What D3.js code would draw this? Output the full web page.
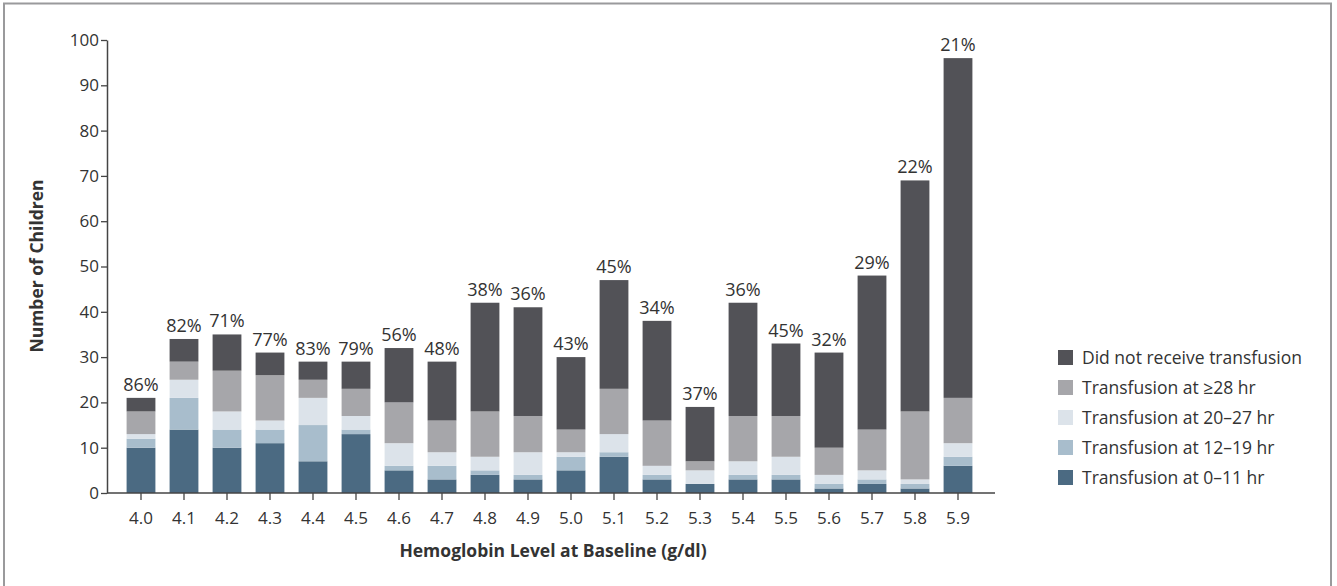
<!DOCTYPE html>
<html>
<head>
<meta charset="utf-8">
<script src="https://cdn.jsdelivr.net/npm/d3@7"></script>
<style>
  body { margin: 0; background: #fff; }
  text { font-family: "Open Sans", sans-serif; fill: #333; }
</style>
</head>
<body>
<div id="chart"></div>
<script>
var levels = ["4.0","4.1","4.2","4.3","4.4","4.5","4.6","4.7","4.8","4.9","5.0","5.1","5.2","5.3","5.4","5.5","5.6","5.7","5.8","5.9"];
// counts per group, bottom to top
var hr0to11  = [10,14,10,11, 7,13, 5, 3, 4, 3, 5, 8, 3, 2, 3, 3, 1, 2, 1, 6];
var hr12to19 = [ 2, 7, 4, 3, 8, 1, 1, 3, 1, 1, 3, 1, 1, 0, 1, 1, 1, 1, 1, 2];
var hr20to27 = [ 1, 4, 4, 2, 6, 3, 5, 3, 3, 5, 1, 4, 2, 3, 3, 4, 2, 2, 1, 3];
var hr28plus = [ 5, 4, 9,10, 4, 6, 9, 7,10, 8, 5,10,10, 2,10, 9, 6, 9,15,10];
var noTransf = [ 3, 5, 8, 5, 4, 6,12,13,24,24,16,24,22,12,25,16,21,34,51,75];
var pctLabels = ["86%","82%","71%","77%","83%","79%","56%","48%","38%","36%","43%","45%","34%","37%","36%","45%","32%","29%","22%","21%"];
var yTicks = [0,10,20,30,40,50,60,70,80,90,100];

var keys = ["hr0to11","hr12to19","hr20to27","hr28plus","noTransf"];
var keyLabels = {
  hr0to11: "Transfusion at 0\u201311 hr",
  hr12to19: "Transfusion at 12\u201319 hr",
  hr20to27: "Transfusion at 20\u201327 hr",
  hr28plus: "Transfusion at \u226528 hr",
  noTransf: "Did not receive transfusion"
};
var colors = {
  hr0to11: "#4b6a82",
  hr12to19: "#a8bdcc",
  hr20to27: "#dce3ea",
  hr28plus: "#a6a6aa",
  noTransf: "#525257"
};

var W = 1337, H = 586;
var svg = d3.select("#chart").append("svg")
    .attr("width", W)
    .attr("height", H);

// frame (open at bottom)
svg.append("path")
    .attr("d", "M4,586 V3.5 H1331 V586")
    .attr("fill", "none")
    .attr("stroke", "#9a9a9c")
    .attr("stroke-width", 2);

var data = levels.map(function (l, i) {
  return {
    level: l,
    hr0to11: hr0to11[i],
    hr12to19: hr12to19[i],
    hr20to27: hr20to27[i],
    hr28plus: hr28plus[i],
    noTransf: noTransf[i],
    pct: pctLabels[i]
  };
});

var xScale = d3.scaleBand()
    .domain(levels)
    .range([119.5, 979.5])
    .paddingInner(0.33)
    .paddingOuter(0.165);

var yScale = d3.scaleLinear()
    .domain([0, 100])
    .range([493, 40]);

var stacked = d3.stack().keys(keys)(data);

svg.selectAll(".serie")
    .data(stacked)
    .enter().append("g")
    .attr("class", "serie")
    .attr("fill", function (d) { return colors[d.key]; })
    .selectAll("rect")
    .data(function (d) { return d; })
    .enter().append("rect")
    .attr("x", function (d) { return xScale(d.data.level); })
    .attr("y", function (d) { return yScale(d[1]); })
    .attr("width", xScale.bandwidth())
    .attr("height", function (d) { return yScale(d[0]) - yScale(d[1]); });

// percent labels
svg.selectAll(".pct")
    .data(data)
    .enter().append("text")
    .attr("class", "pct")
    .attr("x", function (d) { return xScale(d.level) + xScale.bandwidth() / 2; })
    .attr("y", function (d) { return yScale(d.hr0to11 + d.hr12to19 + d.hr20to27 + d.hr28plus + d.noTransf) - 7; })
    .attr("text-anchor", "middle")
    .style("font-size", "18px")
    .text(function (d) { return d.pct; });

// y axis
var yAxis = svg.append("g")
    .attr("transform", "translate(107,0)")
    .call(d3.axisLeft(yScale).tickValues(yTicks).tickSize(6).tickSizeOuter(0));
yAxis.select(".domain").attr("stroke", "#444").attr("stroke-width", 1.5);
yAxis.selectAll(".tick line").attr("stroke", "#444").attr("stroke-width", 1.3);
yAxis.selectAll(".tick text")
    .attr("x", -8)
    .style("font-size", "17px")
    .style("font-family", "'Open Sans', sans-serif")
    .attr("fill", "#333");

// x axis
var xAxis = svg.append("g")
    .attr("transform", "translate(0,493)")
    .call(d3.axisBottom(xScale).tickSize(7).tickSizeOuter(0));
xAxis.select(".domain").remove();
xAxis.append("line")
    .attr("x1", 107).attr("x2", 995)
    .attr("stroke", "#444").attr("stroke-width", 1.5);
xAxis.selectAll(".tick line").attr("stroke", "#444").attr("stroke-width", 1.3);
xAxis.selectAll(".tick text")
    .attr("y", 19)
    .style("font-size", "17px")
    .style("font-family", "'Open Sans', sans-serif")
    .attr("fill", "#333");

// axis titles
svg.append("text")
    .attr("x", 553)
    .attr("y", 557)
    .attr("text-anchor", "middle")
    .style("font-size", "17.5px")
    .style("font-weight", "bold")
    .text("Hemoglobin Level at Baseline (g/dl)");

svg.append("text")
    .attr("transform", "translate(43,266) rotate(-90)")
    .attr("text-anchor", "middle")
    .style("font-size", "17.5px")
    .style("font-weight", "bold")
    .text("Number of Children");

// legend
var legendKeys = keys.slice().reverse();
var legend = svg.selectAll(".legend")
    .data(legendKeys)
    .enter().append("g")
    .attr("class", "legend")
    .attr("transform", function (d, i) { return "translate(1058," + (350 + i * 30) + ")"; });

legend.append("rect")
    .attr("width", 15)
    .attr("height", 15)
    .attr("fill", function (d) { return colors[d]; });

legend.append("text")
    .attr("x", 24)
    .attr("y", 8)
    .attr("dy", ".35em")
    .style("font-size", "17.5px")
    .text(function (d) { return keyLabels[d]; });
</script>
</body>
</html>
